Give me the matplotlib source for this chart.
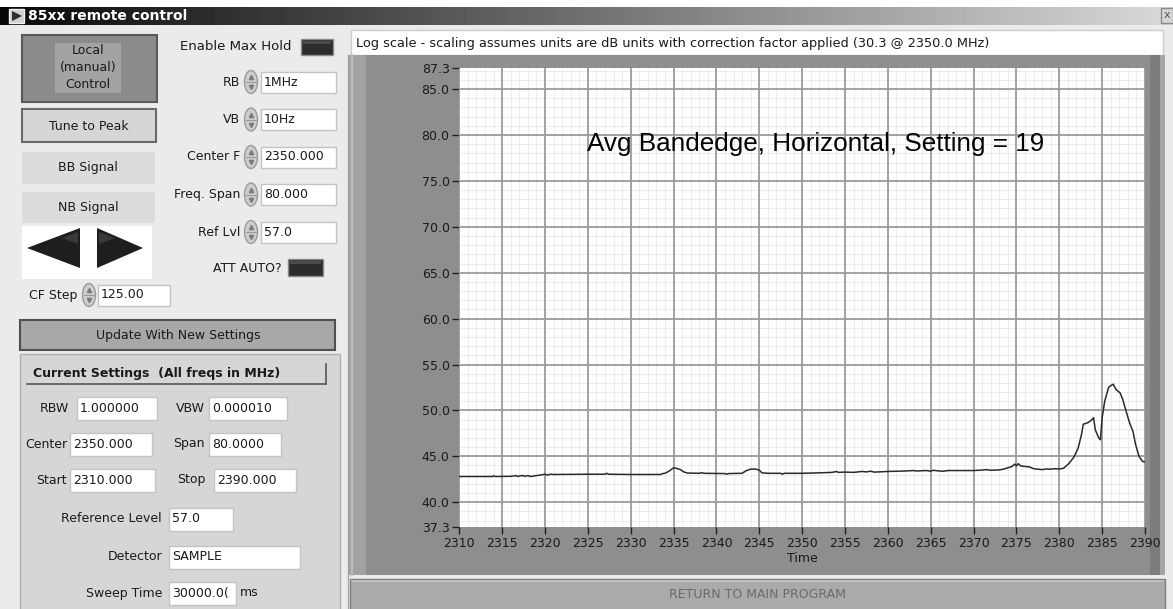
import numpy as np
import matplotlib
matplotlib.use("Agg")
import matplotlib.pyplot as plt
from matplotlib.patches import Rectangle, Ellipse, Polygon

W, H = 1173, 609

# spectrum trace (MHz, dB)
freq = [2310.0, 2312.0, 2313.9, 2314.0, 2314.2, 2316.0, 2316.6, 2316.8, 2317.4, 2317.6,
        2318.0, 2318.3, 2319.0, 2319.6, 2320.0, 2320.3, 2320.6, 2321.0, 2325.0, 2327.0,
        2327.2, 2327.4, 2330.0, 2333.5, 2333.7, 2334.0, 2334.5, 2335.0, 2335.3, 2335.8,
        2336.2, 2336.6, 2338.0, 2338.3, 2338.5, 2341.0, 2341.2, 2341.4, 2343.0, 2343.5,
        2344.0, 2344.5, 2345.0, 2345.3, 2346.0, 2347.5, 2347.7, 2347.9, 2350.0, 2352.0,
        2353.5, 2354.0, 2354.2, 2355.0, 2356.0, 2357.0, 2357.5, 2358.0, 2358.4, 2360.0,
        2362.0, 2363.0, 2363.3, 2364.5, 2365.0, 2365.3, 2366.0, 2366.5, 2367.0, 2370.0,
        2371.0, 2371.5, 2372.0, 2373.0, 2373.5, 2374.0, 2374.5, 2374.8, 2375.0, 2375.2,
        2375.5, 2376.0, 2376.5, 2377.0, 2377.5, 2378.0, 2378.5, 2379.0, 2379.5, 2380.0,
        2380.5, 2381.1, 2381.7, 2382.2, 2382.6, 2382.8, 2383.3, 2383.7, 2384.0, 2384.2,
        2384.6, 2384.8, 2385.0, 2385.3, 2385.75, 2386.0, 2386.3, 2386.6, 2387.1, 2387.4,
        2387.8, 2388.2, 2388.6, 2388.9, 2389.3, 2389.7, 2389.9]
level = [42.80, 42.80, 42.80, 42.88, 42.80, 42.82, 42.90, 42.80, 42.92, 42.82,
         42.90, 42.80, 42.90, 42.98, 43.05, 42.95, 43.05, 43.02, 43.05, 43.05,
         43.15, 43.05, 43.02, 43.02, 43.12, 43.15, 43.40, 43.75, 43.70, 43.55,
         43.30, 43.18, 43.15, 43.22, 43.15, 43.12, 43.05, 43.12, 43.15, 43.45,
         43.60, 43.62, 43.50, 43.20, 43.15, 43.15, 43.05, 43.15, 43.15, 43.20,
         43.25, 43.35, 43.25, 43.28, 43.25, 43.35, 43.30, 43.38, 43.28, 43.35,
         43.40, 43.45, 43.40, 43.45, 43.38, 43.48, 43.40, 43.38, 43.45, 43.45,
         43.50, 43.55, 43.48, 43.52, 43.60, 43.75, 43.90, 44.15, 43.95, 44.20,
         43.95, 43.90, 43.85, 43.65, 43.60, 43.55, 43.62, 43.60, 43.65, 43.62,
         43.70, 44.2, 44.9, 45.9, 47.4, 48.5, 48.65, 48.9, 49.2, 47.9,
         47.0, 46.8, 49.2, 51.0, 52.5, 52.7, 52.85, 52.3, 51.9, 51.2,
         49.9, 48.65, 47.7, 46.3, 45.0, 44.45, 44.4]

x_ticks = list(range(2310, 2391, 5))
y_ticks = [37.3, 40.0, 45.0, 50.0, 55.0, 60.0, 65.0, 70.0, 75.0, 80.0, 85.0, 87.3]

window_title = "85xx remote control"
plot_title = "Avg Bandedge, Horizontal, Setting = 19"
scale_note = ("Log scale - scaling assumes units are dB units with correction "
              "factor applied (30.3 @ 2350.0 MHz)")

ctrl_names = ["RB", "VB", "Center F", "Freq. Span", "Ref Lvl"]
ctrl_values = ["1MHz", "10Hz", "2350.000", "80.000", "57.0"]

set_left_names = ["RBW", "Center", "Start"]
set_left_values = ["1.000000", "2350.000", "2310.000"]
set_right_names = ["VBW", "Span", "Stop"]
set_right_values = ["0.000010", "80.0000", "2390.000"]
set_low_names = ["Reference Level", "Detector", "Sweep Time"]
set_low_values = ["57.0", "SAMPLE", "30000.0("]

plt.rcParams['font.family'] = ['DejaVu Sans']
TXT = '#1a1a1a'

fig = plt.figure(figsize=(W / 100, H / 100), dpi=100)
bg = fig.add_axes([0, 0, 1, 1])
bg.axis('off')


def rect(x0, y0, x1, y1, fc, ec='none', lw=1.0, z=1):
    bg.add_patch(Rectangle((x0, y0), x1 - x0, y1 - y0, facecolor=fc,
                           edgecolor=ec, linewidth=lw, zorder=z))


def label(x, y, s, ha='right', **kw):
    bg.text(x, y, s, ha=ha, va='center', fontsize=kw.pop('fontsize', 9),
            color=kw.pop('color', TXT), zorder=5, **kw)


def field(x0, x1, y, s, h=21):
    rect(x0, y - h / 2, x1, y + h / 2, 'white', ec='#c4c4c4', lw=1, z=3)
    label(x0 + 3, y, s, ha='left')


def spinner(x, y):
    bg.add_patch(Ellipse((x, y), 13, 23, facecolor='#cdcdcd', edgecolor='#9a9a9a',
                         linewidth=1, zorder=3))
    bg.plot([x - 5, x + 5], [y, y], color='#9a9a9a', lw=0.8, zorder=4)
    bg.plot([x], [y - 5], marker='^', ms=3, color='#7a7a7a', zorder=4)
    bg.plot([x], [y + 5], marker='v', ms=3, color='#7a7a7a', zorder=4)


def led(x0, y0, x1, y1):
    rect(x0, y0, x1, y1, '#2c2c2c', ec='#8a8a8a', lw=1, z=3)
    rect(x0 + 2, y0 + 2, x1 - 2, y0 + 5, '#4a4a4a', z=4)


# window
rect(0, 0, W, H, '#ebebeb', z=0)
rect(0, 0, W, 7, 'white', z=1)
bg.imshow(np.linspace(0.03, 0.85, 256)[None, :], cmap='gray', vmin=0, vmax=1,
          extent=(0, W, 25, 7), aspect='auto', zorder=2)
rect(9, 9, 24, 23, '#d0d0d0', ec='#f0f0f0', z=3)
bg.add_patch(Polygon([(12, 11), (22, 16), (12, 21)], closed=True, facecolor='#303030', zorder=4))
label(28, 16.5, window_title, ha='left', color='white', fontweight='bold', fontsize=10)
rect(1161, 8, 1173, 23, '#d6d6d6', ec='#8a8a8a', z=3)
label(1167, 15.5, 'x', ha='center', color='#555555', fontsize=8)

# left controls
rect(22, 35, 157, 102, '#8b8b8b', ec='#5a5a5a', lw=1.5, z=2)
rect(55, 43, 121, 93, '#a3a3a3', z=3)
for yy, s in zip([50, 67, 84], ["Local", "(manual)", "Control"]):
    label(88, yy, s, ha='center')
rect(22, 109, 156, 142, '#d6d6d6', ec='#6a6a6a', lw=1.5, z=2)
label(89, 126, "Tune to Peak", ha='center')
rect(22, 152, 155, 184, '#dcdcdc', z=2)
label(88, 168, "BB Signal", ha='center')
rect(22, 192, 155, 223, '#dcdcdc', z=2)
label(88, 207, "NB Signal", ha='center')
rect(22, 226, 152, 279, 'white', z=2)
bg.add_patch(Polygon([(27, 248), (80, 228), (80, 268)], closed=True, facecolor='#1e1e1e', zorder=3))
bg.add_patch(Polygon([(97, 228), (143, 248), (97, 268)], closed=True, facecolor='#1e1e1e', zorder=3))
bg.add_patch(Polygon([(62, 238), (78, 232), (78, 244)], closed=True, facecolor='#3a3a3a', zorder=4))
bg.add_patch(Polygon([(99, 232), (115, 238), (99, 244)], closed=True, facecolor='#3a3a3a', zorder=4))
label(77, 295, "CF Step")
spinner(89, 295)
field(98, 170, 295, "125.00")

label(291, 46, "Enable Max Hold", fontsize=9.5)
led(301, 39, 333, 55)
for i, (n, v) in enumerate(zip(ctrl_names, ctrl_values)):
    yy = 82 + 37.5 * i
    label(240, yy, n)
    spinner(251, yy)
    field(261, 336, yy, v)
label(282, 268, "ATT AUTO?")
led(288, 259, 323, 276)

rect(20, 320, 335, 350, '#a8a8a8', ec='#505050', lw=1.5, z=2)
label(178, 335, "Update With New Settings", ha='center')

# current settings panel
rect(20, 354, 340, 612, '#d6d6d6', ec='#b0b0b0', z=2)
bg.plot([27, 326], [384, 384], color='#555555', lw=1.2, zorder=3)
bg.plot([326, 326], [364, 384], color='#555555', lw=1.2, zorder=3)
label(33, 373, "Current Settings  (All freqs in MHz)", ha='left', fontweight='bold')
rows_y = [408, 444, 480]
left_lbl_x = [69, 67, 67]
left_fld = [(77, 157), (70, 152), (70, 155)]
right_lbl_x = [205, 205, 206]
right_fld = [(209, 287), (209, 281), (214, 296)]
for i in range(3):
    label(left_lbl_x[i], rows_y[i], set_left_names[i])
    field(*left_fld[i], rows_y[i], set_left_values[i], h=23)
    label(right_lbl_x[i], rows_y[i], set_right_names[i])
    field(*right_fld[i], rows_y[i], set_right_values[i], h=23)
low_y = [519, 557, 593]
low_fld = [(169, 233), (169, 300), (169, 236)]
for i in range(3):
    label(162, low_y[i], set_low_names[i])
    field(*low_fld[i], low_y[i], set_low_values[i], h=23)
label(240, 593, "ms", ha='left')

# right side: note box, graph frame, return button
bg.plot([348, 348], [55, 609], color='#a8a8a8', lw=1, zorder=2)
rect(351, 30, 1163, 55, 'white', ec='#cccccc', z=2)
label(356, 43, scale_note, ha='left', fontsize=9.3)
rect(348, 55, 1165, 575, '#8e8e8e', z=2)
rect(348, 55, 366, 575, '#a2a2a2', z=2)
bg.plot([352, 352], [55, 575], color='#bdbdbd', lw=1.5, zorder=3)
rect(1150, 55, 1160, 575, '#7c7c7c', z=2)
rect(1160, 55, 1165, 575, '#a6a6a6', z=2)
rect(350, 579, 1165, 612, '#aaaaaa', ec='#7d7d7d', z=2)
bg.plot([352, 1163], [581, 581], color='#c6c6c6', lw=1.2, zorder=3)
label(757, 595, "RETURN TO MAIN PROGRAM", ha='center', color='#6a6a6a')

bg.set_xlim(0, W)
bg.set_ylim(H, 0)

# graph
x_left, x_right, y_top, y_bot = 459.3, 1145.0, 68.0, 527.0
ax = fig.add_axes([x_left / W, 1 - y_bot / H, (x_right - x_left) / W, (y_bot - y_top) / H])
ax.set_facecolor('white')
ax.set_xlim(2310, 2390)
ax.set_ylim(37.3, 87.3)

# fine grid first, then the main grid, then the trace
for xv in np.arange(2310, 2391, 1):
    ax.axvline(xv, color='#ececec', lw=0.7, zorder=1)
for yv in np.arange(38, 88, 1):
    ax.axhline(yv, color='#ececec', lw=0.7, zorder=1)
for xv in x_ticks:
    ax.axvline(xv, color='#9c9c9c', lw=1.3, zorder=2)
for yv in y_ticks[1:-1]:
    ax.axhline(yv, color='#9c9c9c', lw=1.3, zorder=2)
ax.plot(freq, level, color='#2a2a2a', lw=1.1, zorder=3)

ax.set_xticks(x_ticks)
ax.set_yticks(y_ticks)
ax.set_yticklabels([f"{v:.1f}" for v in y_ticks])
ax.tick_params(direction='out', length=5, width=1, color='#202020',
               labelsize=9, labelcolor=TXT, pad=2)
for s in ax.spines.values():
    s.set_visible(False)
ax.set_xlabel('Time', fontsize=9, color=TXT, labelpad=2)

fig.text(587 / W, 1 - 150.5 / H, plot_title, fontsize=18.8, color='black',
         family=['Liberation Sans', 'DejaVu Sans'], va='baseline', ha='left')

fig.savefig('out.png', dpi=100)
